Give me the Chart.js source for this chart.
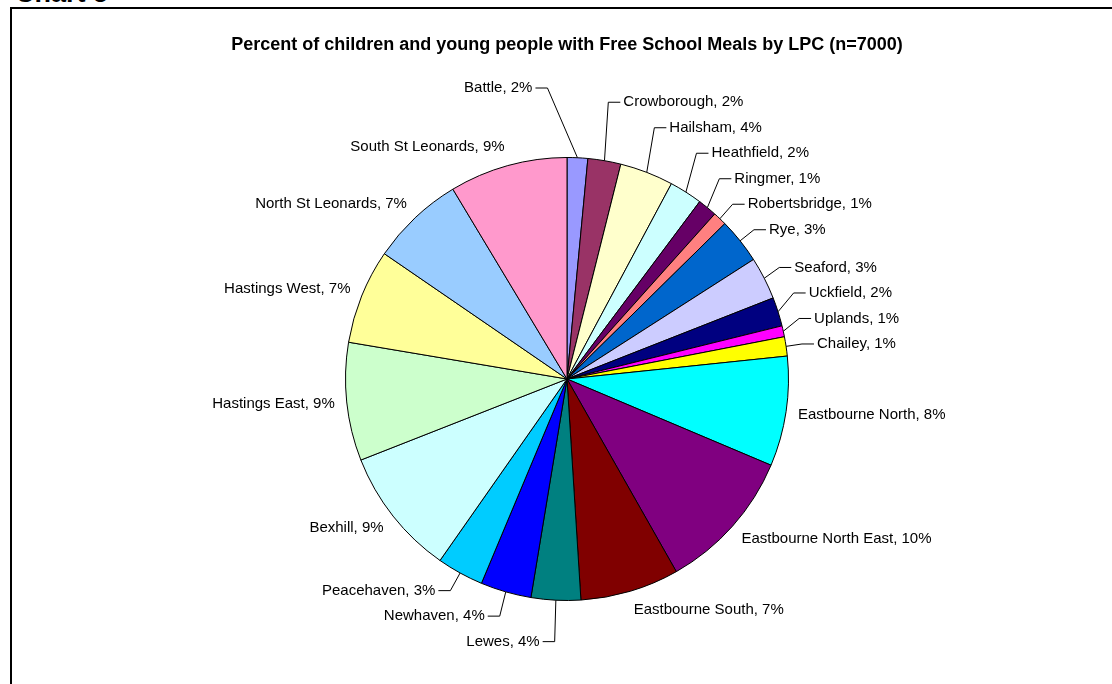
<!DOCTYPE html>
<html>
<head>
<meta charset="utf-8">
<script src="https://cdn.jsdelivr.net/npm/chart.js@4"></script>
<style>
  html, body { margin: 0; padding: 0; background: #fff; overflow: hidden; width: 1112px; height: 684px; }
  #frame { position: absolute; left: 10px; top: 7px; width: 1200px; height: 800px; border: 2px solid #000; }
  #caption { position: absolute; left: 15px; top: -20px; font: bold 27px "Liberation Sans", Arial, sans-serif; line-height: 27px; color: #000; }
  #wrap { position: absolute; left: 11px; top: 0; width: 1112px; height: 684px; }
</style>
</head>
<body>
<div id="caption">Chart 5</div>
<div id="frame"></div>
<div id="wrap"><canvas id="fsmChart"></canvas></div>
<script>
// LPC areas, clockwise from 12 o'clock
const areas = [
  "Battle", "Crowborough", "Hailsham", "Heathfield", "Ringmer", "Robertsbridge",
  "Rye", "Seaford", "Uckfield", "Uplands", "Chailey", "Eastbourne North",
  "Eastbourne North East", "Eastbourne South", "Lewes", "Newhaven", "Peacehaven",
  "Bexhill", "Hastings East", "Hastings West", "North St Leonards", "South St Leonards"
];
// share of children with free school meals (%)
const shares = [
  1.5, 2.4, 3.9, 2.4, 1.4, 1.0,
  3.3, 3.1, 2.1, 0.8, 1.4, 8.0,
  10.4, 7.2, 3.6, 3.7, 3.4,
  9.3, 8.6, 6.9, 6.8, 8.6
];
const sliceColors = [
  "#9999FF", "#993366", "#FFFFCC", "#CCFFFF", "#660066", "#FF8080",
  "#0066CC", "#CCCCFF", "#000080", "#FF00FF", "#FFFF00", "#00FFFF",
  "#800080", "#800000", "#008080", "#0000FF", "#00CCFF",
  "#CCFFFF", "#CCFFCC", "#FFFF99", "#99CCFF", "#FF99CC"
];

const FONT = '"Liberation Sans", Arial, sans-serif';

// Excel-like outside labels: big slices sit next to the rim,
// small ones get pushed out, stacked and joined by leader lines
const outsideLabels = {
  id: 'outsideLabels',
  afterDatasetsDraw(chart) {
    const ctx = chart.ctx;
    const meta = chart.getDatasetMeta(0);
    const values = chart.data.datasets[0].data;
    const total = values.reduce((a, b) => a + b, 0);
    const gap = 12, elbowOut = 24, spacing = 25.5, minY = 88;

    const items = meta.data.map((arc, i) => {
      const p = arc.getProps(['x', 'y', 'startAngle', 'endAngle', 'outerRadius'], true);
      const mid = (p.startAngle + p.endAngle) / 2;
      const pct = values[i] / total * 100;
      return {
        cx: p.x, cy: p.y, r: p.outerRadius, mid,
        cos: Math.cos(mid), sin: Math.sin(mid),
        text: chart.data.labels[i] + ', ' + Math.round(pct) + '%',
        small: pct < 5
      };
    });

    ctx.save();
    ctx.font = '15px ' + FONT;
    ctx.fillStyle = '#000';
    ctx.strokeStyle = '#000';
    ctx.lineWidth = 1;
    ctx.textBaseline = 'middle';

    // large slices: text next to the rim
    items.filter(it => !it.small).forEach(it => {
      const rr = it.r + gap;
      const px = it.cx + rr * it.cos;
      const py = it.cy + rr * it.sin + 7.5 * it.sin;
      ctx.textAlign = it.cos >= 0 ? 'left' : 'right';
      ctx.fillText(it.text, px, py);
    });

    // small slices: leader lines
    const small = items.filter(it => it.small);
    small.forEach(it => {
      const re = it.r + elbowOut - 8 * Math.abs(it.cos);
      it.right = it.cos >= 0;
      it.ex = it.cx + re * it.cos;
      it.ey = it.cy + re * it.sin;
    });
    [true, false].forEach(side => {
      const group = small.filter(it => it.right === side);
      const upper = group.filter(it => it.ey < it.cy).sort((a, b) => b.ey - a.ey);
      for (let k = 1; k < upper.length; k++) {
        upper[k].ey = Math.min(upper[k].ey, upper[k - 1].ey - spacing);
      }
      const lower = group.filter(it => it.ey >= it.cy).sort((a, b) => a.ey - b.ey);
      for (let k = 1; k < lower.length; k++) {
        lower[k].ey = Math.max(lower[k].ey, lower[k - 1].ey + spacing);
      }
    });
    // no room at the top right: flip to the other side of 12 o'clock
    small.forEach(it => {
      if (it.ey < minY) {
        it.ey = minY;
        it.right = !it.right;
        it.ex = it.cx + it.r * it.cos + (it.right ? 30 : -30);
      }
    });

    small.forEach(it => {
      const ax = it.cx + it.r * it.cos;
      const ay = it.cy + it.r * it.sin;
      const dir = it.right ? 1 : -1;
      ctx.beginPath();
      ctx.moveTo(ax, ay);
      ctx.lineTo(it.ex, it.ey);
      ctx.lineTo(it.ex + dir * 12, it.ey);
      ctx.stroke();
      ctx.textAlign = it.right ? 'left' : 'right';
      ctx.fillText(it.text, it.ex + dir * 15, it.ey);
    });
    ctx.restore();
  }
};

new Chart(document.getElementById('fsmChart'), {
  type: 'pie',
  data: {
    labels: areas,
    datasets: [{
      data: shares,
      backgroundColor: sliceColors,
      borderColor: '#000',
      borderWidth: 1
    }]
  },
  options: {
    responsive: true,
    maintainAspectRatio: false,
    animation: false,
    layout: { padding: { top: 0, bottom: 83, left: 0, right: 0 } },
    plugins: {
      legend: { display: false },
      tooltip: { enabled: false },
      title: {
        display: true,
        text: 'Percent of children and young people with Free School Meals by LPC (n=7000)',
        color: '#000',
        font: { family: FONT, size: 18, weight: 'bold' },
        padding: { top: 34, bottom: 101.4 }
      }
    }
  },
  plugins: [outsideLabels]
});
</script>
</body>
</html>
